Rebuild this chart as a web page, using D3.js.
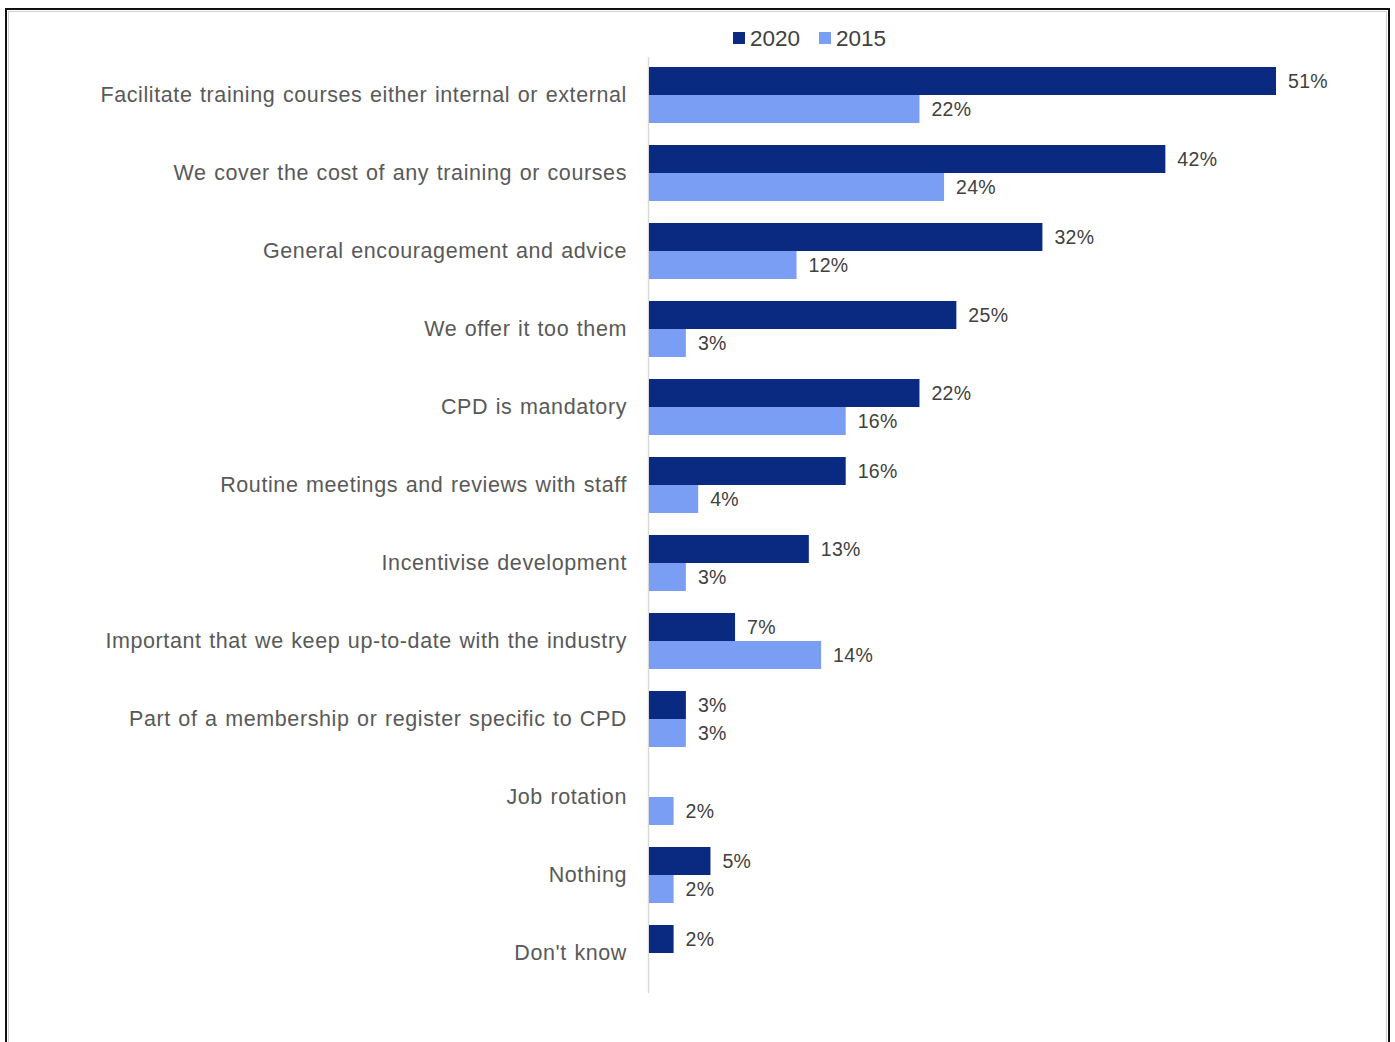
<!DOCTYPE html>
<html>
<head>
<meta charset="utf-8">
<script src="https://cdn.jsdelivr.net/npm/d3@7"></script>
<style>
  html, body { margin: 0; padding: 0; background: #ffffff; }
  svg { display: block; font-family: "Liberation Sans", Arial, sans-serif; }
</style>
</head>
<body>
<svg id="chart" width="1395" height="1042"></svg>
<script>
// Ways employers support continuing professional development, 2020 vs 2015
const categories = [
  "Facilitate training courses either internal or external",
  "We cover the cost of any training or courses",
  "General encouragement and advice",
  "We offer it too them",
  "CPD is mandatory",
  "Routine meetings and reviews with staff",
  "Incentivise development",
  "Important that we keep up-to-date with the industry",
  "Part of a membership or register specific to CPD",
  "Job rotation",
  "Nothing",
  "Don't know"
];
const values2020 = [51, 42, 32, 25, 22, 16, 13, 7, 3, null, 5, 2];
const values2015 = [22, 24, 12, 3, 16, 4, 3, 14, 3, 2, 2, null];
const seriesNames = ["2020", "2015"];
const seriesColors = ["#0a2a82", "#7b9ef5"];

const svg = d3.select("#chart");

// Frame around the chart
svg.append("rect")
  .attr("x", 6).attr("y", 9).attr("width", 1383).attr("height", 1060)
  .attr("fill", "none").attr("stroke", "#111").attr("stroke-width", 2);
svg.append("rect")
  .attr("x", 8.5).attr("y", 11.5).attr("width", 1378).attr("height", 1060)
  .attr("fill", "none").attr("stroke", "#d0d0d0").attr("stroke-width", 1);

const x0 = 649;
const x = d3.scaleLinear().domain([0, 51]).range([x0, 1276]);
const y = d3.scaleBand().domain(categories).range([56, 992]).paddingInner(22 / 78).paddingOuter(11 / 78);
const sub = d3.scaleBand().domain(seriesNames).range([0, y.bandwidth()]);

// Category axis line
svg.append("line")
  .attr("x1", x0 - 0.5).attr("x2", x0 - 0.5)
  .attr("y1", 57).attr("y2", 993)
  .attr("stroke", "#d9d9d9").attr("stroke-width", 1.5);

// Category labels
const yAxis = d3.axisLeft(y).tickSize(0).tickPadding(22);
const gy = svg.append("g").attr("transform", `translate(${x0},0)`).call(yAxis);
gy.select(".domain").remove();
gy.selectAll("text")
  .attr("font-size", 21.5)
  .attr("fill", "#595959")
  .attr("letter-spacing", 0.6)
  .attr("word-spacing", 1)
  .attr("font-family", "Liberation Sans, Arial, sans-serif");

const series = [values2020, values2015];
series.forEach((vals, si) => {
  const rows = categories.map((c, i) => ({ c, v: vals[i] })).filter(d => d.v != null);
  const g = svg.append("g");
  g.selectAll("rect").data(rows).enter().append("rect")
    .attr("x", x0)
    .attr("y", d => y(d.c) + sub(seriesNames[si]))
    .attr("width", d => x(d.v) - x0)
    .attr("height", sub.bandwidth())
    .attr("fill", seriesColors[si]);
  g.selectAll("text").data(rows).enter().append("text")
    .attr("x", d => x(d.v) + 12)
    .attr("y", d => y(d.c) + sub(seriesNames[si]) + sub.bandwidth() / 2)
    .attr("dy", "0.35em")
    .attr("font-size", 19.5)
    .attr("letter-spacing", 0.3)
    .attr("fill", "#404040")
    .text(d => d.v + "%");
});

// Legend
const legend = svg.append("g").attr("transform", "translate(733,38)");
const items = [{ name: seriesNames[0], x: 0 }, { name: seriesNames[1], x: 86 }];
items.forEach((it, i) => {
  legend.append("rect")
    .attr("x", it.x).attr("y", -6).attr("width", 12).attr("height", 12)
    .attr("fill", seriesColors[i]);
  legend.append("text")
    .attr("x", it.x + 17).attr("y", 0).attr("dy", "0.35em")
    .attr("font-size", 22.5).attr("fill", "#404040")
    .text(it.name);
});
</script>
</body>
</html>
